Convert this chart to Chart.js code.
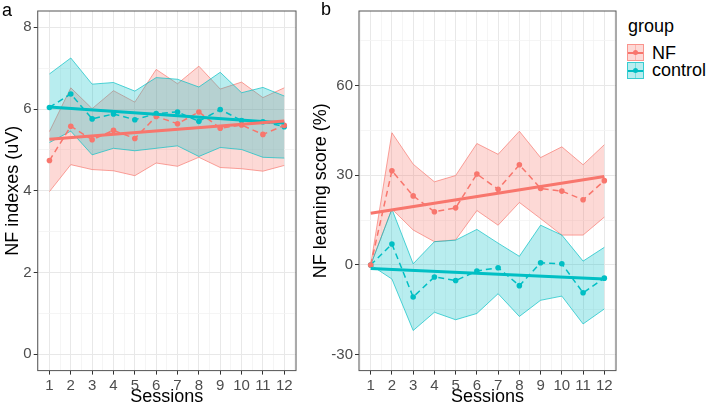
<!DOCTYPE html>
<html>
<head>
<meta charset="utf-8">
<script src="https://cdn.jsdelivr.net/npm/chart.js@4.4.1/dist/chart.umd.min.js"></script>
<style>
  body { margin: 0; background: #fff; width: 708px; height: 408px; overflow: hidden; position: relative; font-family: "Liberation Sans", Arial, sans-serif; }
  canvas { position: absolute; top: 0; }
  .txt { position: absolute; font-size: 18px; line-height: 18px; color: #000; white-space: nowrap; }
  .key { position: absolute; left: 627px; width: 15px; height: 15px; border: 1px solid; }
  .key .v { position: absolute; left: 7px; top: 0; width: 1px; height: 15px; }
  .key .h { position: absolute; left: 0; top: 7px; width: 15px; height: 1.5px; }
  .key .d { position: absolute; left: 5px; top: 5px; width: 5px; height: 5px; border-radius: 50%; }
</style>
</head>
<body>
<canvas id="chartA" width="300" height="408" style="left:0"></canvas>
<canvas id="chartB" width="320" height="408" style="left:300px"></canvas>
<div class="txt" style="left:2px;top:1px">a</div>
<div class="txt" style="left:321px;top:0px">b</div>
<div class="txt" style="left:628px;top:17px">group</div>
<div class="key" style="top:44px;background:rgba(248,118,109,0.28);border-color:rgba(248,118,109,0.7)">
  <div class="v" style="background:rgba(248,118,109,0.35)"></div>
  <div class="h" style="background:#F8766D"></div>
  <div class="d" style="background:#F8766D"></div>
</div>
<div class="key" style="top:62px;background:rgba(0,191,196,0.28);border-color:rgba(0,191,196,0.7)">
  <div class="v" style="background:rgba(0,191,196,0.35)"></div>
  <div class="h" style="background:#00BFC4"></div>
  <div class="d" style="background:#00BFC4"></div>
</div>
<div class="txt" style="left:652px;top:44px">NF</div>
<div class="txt" style="left:652px;top:61px">control</div>
<script>
const sessions = [1, 2, 3, 4, 5, 6, 7, 8, 9, 10, 11, 12];
const trendSessions = [1, 12];

// panel a: NF indexes (uV)
const nfA      = [4.74, 5.58, 5.25, 5.48, 5.28, 5.82, 5.64, 5.93, 5.53, 5.61, 5.38, 5.60];
const nfAUpper = [5.45, 6.52, 6.01, 6.45, 6.17, 6.97, 6.62, 7.05, 6.49, 6.66, 6.28, 6.52];
const nfALower = [3.98, 4.64, 4.52, 4.49, 4.37, 4.68, 4.60, 4.82, 4.57, 4.54, 4.48, 4.62];
const ctrlA      = [6.04, 6.37, 5.76, 5.88, 5.74, 5.89, 5.93, 5.70, 5.99, 5.72, 5.69, 5.57];
const ctrlAUpper = [6.86, 7.25, 6.61, 6.65, 6.44, 6.77, 6.73, 6.54, 6.90, 6.40, 6.53, 6.32];
const ctrlALower = [5.18, 5.46, 4.88, 5.04, 4.98, 5.04, 5.10, 4.84, 5.06, 5.01, 4.82, 4.80];
const nfTrendA = [5.26, 5.71];
const ctrlTrendA = [6.05, 5.66];

// panel b: NF learning score (%)
const nfB      = [0, 31.5, 23.1, 17.8, 19.1, 30.4, 25.3, 33.5, 25.6, 24.7, 21.8, 28.2];
const nfBUpper = [0, 44.2, 33.7, 27.8, 29.9, 40.6, 37.0, 44.7, 35.9, 39.5, 33.5, 40.2];
const nfBLower = [0, 18.7, 11.7, 7.8, 8.4, 18.2, 13.3, 20.9, 15.5, 10.0, 10.0, 16.0];
const ctrlB      = [0, 7.0, -10.7, -4.0, -5.2, -2.0, -0.9, -6.9, 0.75, 0.4, -9.3, -4.4];
const ctrlBUpper = [0, 18.7, 0.4, 7.8, 8.3, 11.9, 7.3, 2.9, 13.3, 10.0, 1.3, 5.9];
const ctrlBLower = [0, -4.7, -21.9, -15.8, -18.3, -16.2, -9.6, -17.2, -11.8, -10.4, -19.7, -14.7];
const nfTrendB = [17.3, 29.6];
const ctrlTrendB = [-1.2, -4.7];

// tick labels
const yTicksA = [0, 2, 4, 6, 8];
const yTicksB = [-30, 0, 30, 60];

const NF_COLOR = '#F8766D';
const CTRL_COLOR = '#00BFC4';

function pts(xs, ys) {
    return xs.map((x, i) => ({ x: x, y: ys[i] }));
}

// major ticks plus the minor ones half way between (ggplot style grid)
function withMinor(major, lo, hi) {
    const step = major[1] - major[0];
    const all = [];
    for (let v = major[0] - step / 2; v <= hi; v += step / 2) {
        if (v >= lo) all.push(Math.round(v * 1000) / 1000);
    }
    return all;
}

function axisConfig(major, lo, hi, extra) {
    const majorSet = new Set(major);
    const all = withMinor(major, lo, hi);
    return Object.assign({
        type: 'linear',
        min: lo,
        max: hi,
        afterBuildTicks: s => { s.ticks = all.map(v => ({ value: v })); },
        ticks: {
            autoSkip: false,
            maxRotation: 0,
            padding: 2,
            color: '#4d4d4d',
            font: { family: 'Liberation Sans', size: 15 },
            callback: v => majorSet.has(v) ? String(v) : ''
        },
        grid: {
            color: c => (c.tick && majorSet.has(c.tick.value)) ? '#e8e8e8' : '#f2f2f2',
            lineWidth: c => (c.tick && majorSet.has(c.tick.value)) ? 1 : 0.8,
            drawTicks: true,
            tickLength: 4,
            tickColor: c => (c.tick && majorSet.has(c.tick.value)) ? '#333' : 'rgba(0,0,0,0)',
            tickWidth: 1
        },
        border: { display: false }
    }, extra);
}

const panelBorder = {
    id: 'panelBorder',
    afterDraw(chart) {
        const a = chart.chartArea;
        const ctx = chart.ctx;
        ctx.save();
        ctx.strokeStyle = '#555';
        ctx.lineWidth = 1;
        ctx.strokeRect(a.left, a.top, a.right - a.left, a.bottom - a.top);
        ctx.restore();
    }
};

// higher order is drawn first, so the control ribbon ends up on top
function ribbon(upper, lower, rgb, order) {
    const edge = 'rgba(' + rgb + ',0.75)';
    return [
        { data: pts(sessions, upper), borderColor: edge, borderWidth: 0.9, pointRadius: 0,
          backgroundColor: 'rgba(' + rgb + ',0.28)', fill: '+1', order: order },
        { data: pts(sessions, lower), borderColor: edge, borderWidth: 0.9, pointRadius: 0,
          fill: false, order: order }
    ];
}

function createPanel(canvasId, opts) {
    const ctx = document.getElementById(canvasId);
    return new Chart(ctx, {
        type: 'line',
        data: {
            datasets: [
                ...ribbon(opts.nfUpper, opts.nfLower, '248,118,109', 11),
                ...ribbon(opts.ctrlUpper, opts.ctrlLower, '0,191,196', 10),
                { data: pts(sessions, opts.nf), borderColor: NF_COLOR, backgroundColor: NF_COLOR,
                  borderWidth: 1.5, borderDash: [6, 4], pointRadius: 2.8, pointBorderWidth: 0, fill: false, order: 5 },
                { data: pts(sessions, opts.ctrl), borderColor: CTRL_COLOR, backgroundColor: CTRL_COLOR,
                  borderWidth: 1.5, borderDash: [6, 4], pointRadius: 2.8, pointBorderWidth: 0, fill: false, order: 5 },
                { data: pts(trendSessions, opts.nfTrend), borderColor: NF_COLOR, borderWidth: 3,
                  pointRadius: 0, fill: false, order: 1 },
                { data: pts(trendSessions, opts.ctrlTrend), borderColor: CTRL_COLOR, borderWidth: 3,
                  pointRadius: 0, fill: false, order: 1 }
            ]
        },
        options: {
            responsive: false,
            animation: false,
            layout: { padding: { top: 3, right: opts.padRight, left: 0, bottom: 0 } },
            plugins: { legend: { display: false }, tooltip: { enabled: false } },
            elements: { line: { tension: 0 } },
            scales: {
                x: axisConfig(sessions, 0.45, 12.55, {
                    position: 'bottom',
                    afterBuildTicks: s => { s.ticks = withMinor(sessions, 0.45, 12.55).map(v => ({ value: v })); },
                    afterFit: s => { s.height = 37.4; },
                    title: { display: true, text: 'Sessions', color: '#000',
                             font: { family: 'Liberation Sans', size: 18, lineHeight: 1 },
                             padding: { top: 0, bottom: 2 } }
                }),
                y: axisConfig(opts.yTicks, opts.yMin, opts.yMax, {
                    position: 'left',
                    afterFit: s => { s.width = opts.yWidth; },
                    title: { display: true, text: opts.yTitle, color: '#000',
                             font: { family: 'Liberation Sans', size: 18, lineHeight: 1.2 }, padding: opts.titlePad }
                })
            }
        },
        plugins: [panelBorder]
    });
}

createPanel('chartA', {
    nf: nfA, nfUpper: nfAUpper, nfLower: nfALower,
    ctrl: ctrlA, ctrlUpper: ctrlAUpper, ctrlLower: ctrlALower,
    nfTrend: nfTrendA, ctrlTrend: ctrlTrendA,
    yTicks: yTicksA, yMin: -0.4, yMax: 8.4,
    yTitle: 'NF indexes (uV)', yWidth: 37.7, titlePad: 2.2, padRight: 2.3
});

createPanel('chartB', {
    nf: nfB, nfUpper: nfBUpper, nfLower: nfBLower,
    ctrl: ctrlB, ctrlUpper: ctrlBUpper, ctrlLower: ctrlBLower,
    nfTrend: nfTrendB, ctrlTrend: ctrlTrendB,
    yTicks: yTicksB, yMin: -35.3, yMax: 84.9,
    yTitle: 'NF learning score (%)', yWidth: 59, titlePad: 10.7, padRight: 2.7
});
</script>
</body>
</html>
